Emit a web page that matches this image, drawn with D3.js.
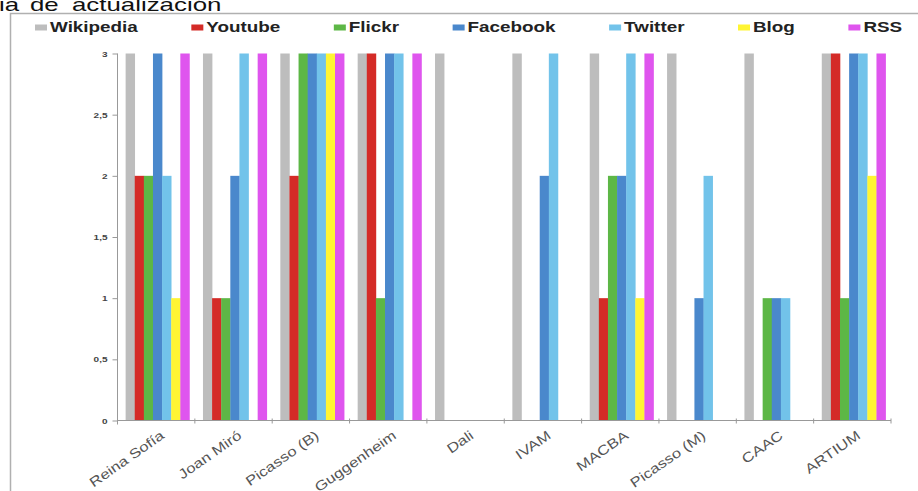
<!DOCTYPE html>
<html>
<head>
<meta charset="utf-8">
<script src="https://cdn.jsdelivr.net/npm/d3@7"></script>
<style>
  html, body { margin: 0; padding: 0; background: #fff; }
  svg { display: block; }
  text { font-family: "Liberation Sans", Arial, sans-serif; }
</style>
</head>
<body>
<svg id="chart" width="918" height="491"></svg>
<script>
// ---- data ----
const categories = ["Reina Sofía", "Joan Miró", "Picasso (B)", "Guggenheim", "Dali", "IVAM", "MACBA", "Picasso (M)", "CAAC", "ARTIUM"];
const seriesNames = ["Wikipedia", "Youtube", "Flickr", "Facebook", "Twitter", "Blog", "RSS"];
const wikipedia = [3, 3, 3, 3, 3, 3, 3, 3, 3, 3];
const youtube   = [2, 1, 2, 3, 0, 0, 1, 0, 0, 3];
const flickr    = [2, 1, 3, 1, 0, 0, 2, 0, 1, 1];
const facebook  = [3, 2, 3, 3, 0, 2, 2, 1, 1, 3];
const twitter   = [2, 3, 3, 3, 0, 3, 3, 2, 1, 3];
const blog      = [1, 0, 3, 0, 0, 0, 1, 0, 0, 2];
const rss       = [3, 3, 3, 3, 0, 0, 3, 0, 0, 3];
const yTicks = [0, 0.5, 1, 1.5, 2, 2.5, 3];
const yTickLabels = ["0", "0,5", "1", "1,5", "2", "2,5", "3"];
const titleWords = ["ia", "de", "actualización"];

const seriesValues = [wikipedia, youtube, flickr, facebook, twitter, blog, rss];
const colors = ["#bdbdbd", "#d42b27", "#5db746", "#4a88cc", "#72c3ea", "#fff533", "#df55ee"];

(function () {
// ---- layout ----
const svg = d3.select("#chart");
const pLeft = 117.5, pRight = 891, pTop = 53.5, pBottom = 420.5;

function stretch(sel, k) {
  sel.each(function () {
    const L = this.getComputedTextLength();
    d3.select(this).attr("textLength", L * k).attr("lengthAdjust", "spacingAndGlyphs");
  });
  return sel;
}

// frame
svg.append("path")
  .attr("d", `M10.5,491 L10.5,13.5 L918,13.5`)
  .attr("fill", "none").attr("stroke", "#b0b0b0").attr("stroke-width", 1.5);

// title (cropped at the top, as in the source image)
const titleX = [-1, 30, 72];
titleWords.forEach((w, i) => {
  svg.append("text").attr("x", titleX[i]).attr("y", 11)
    .attr("font-size", 19).attr("fill", "#111").text(w)
    .call(stretch, 1.36);
});

// scales
const x0 = d3.scaleBand().domain(categories).range([pLeft, pRight]).padding(0);
const x1 = d3.scaleBand().domain(seriesNames)
  .range([x0.bandwidth() * 0.105, x0.bandwidth() * 0.93]).padding(0);
const y = d3.scaleLinear().domain([0, 3]).range([pBottom, pTop]);

// bars
const groups = svg.append("g").selectAll("g").data(categories).join("g")
  .attr("transform", d => `translate(${x0(d)},0)`);
groups.selectAll("rect")
  .data((c, ci) => seriesNames.map((s, si) => ({ s, si, v: seriesValues[si][ci] })))
  .join("rect")
  .attr("x", d => x1(d.s))
  .attr("width", x1.bandwidth() + 0.3)
  .attr("y", d => y(d.v))
  .attr("height", d => y(0) - y(d.v))
  .attr("fill", d => colors[d.si]);

// y axis
const yAxis = d3.axisLeft(y).tickValues(yTicks)
  .tickFormat((d, i) => yTickLabels[i]).tickSize(5).tickPadding(5);
const gy = svg.append("g").attr("transform", `translate(${pLeft},0)`).call(yAxis);
gy.select(".domain").attr("stroke", "#999").attr("d", `M0,${pTop}V${pBottom + 4}`);
gy.selectAll(".tick line").attr("stroke", "#999");
gy.selectAll(".tick text").attr("font-size", 8).attr("font-weight", "bold")
  .attr("fill", "#444").style("font-family", '"Liberation Sans", Arial, sans-serif')
  .call(stretch, 1.25);

// x axis
const gx = svg.append("g").attr("transform", `translate(0,${pBottom})`);
gx.append("line").attr("x1", pLeft).attr("x2", pRight).attr("y1", 0).attr("y2", 0)
  .attr("stroke", "#999");
const boundaries = categories.map(c => x0(c)).concat([pRight]);
gx.selectAll("line.tk").data(boundaries).join("line").attr("class", "tk")
  .attr("x1", d => d).attr("x2", d => d).attr("y1", -2).attr("y2", 3)
  .attr("stroke", "#999");
gx.selectAll("text.lbl").data(categories).join("text").attr("class", "lbl")
  .attr("text-anchor", "end")
  .attr("font-size", 13.5).attr("fill", "#555")
  .attr("transform", d => `translate(${x0(d) + x0.bandwidth() / 2 + 9},${17}) rotate(-35)`)
  .text(d => d)
  .call(stretch, 1.24);

// legend
const lg = svg.append("g");
let lx = 35;
seriesNames.forEach((s, i) => {
  lg.append("rect").attr("x", lx).attr("y", 24.5).attr("width", 12).attr("height", 6)
    .attr("fill", colors[i]);
  const t = lg.append("text").attr("x", lx + 15).attr("y", 32)
    .attr("font-size", 14.5).attr("font-weight", "bold").attr("fill", "#222").text(s);
  const L = t.node().getComputedTextLength() * 1.3;
  t.attr("textLength", L).attr("lengthAdjust", "spacingAndGlyphs");
  lx += 15 + L + 53.5;
});
})();
</script>
</body>
</html>
